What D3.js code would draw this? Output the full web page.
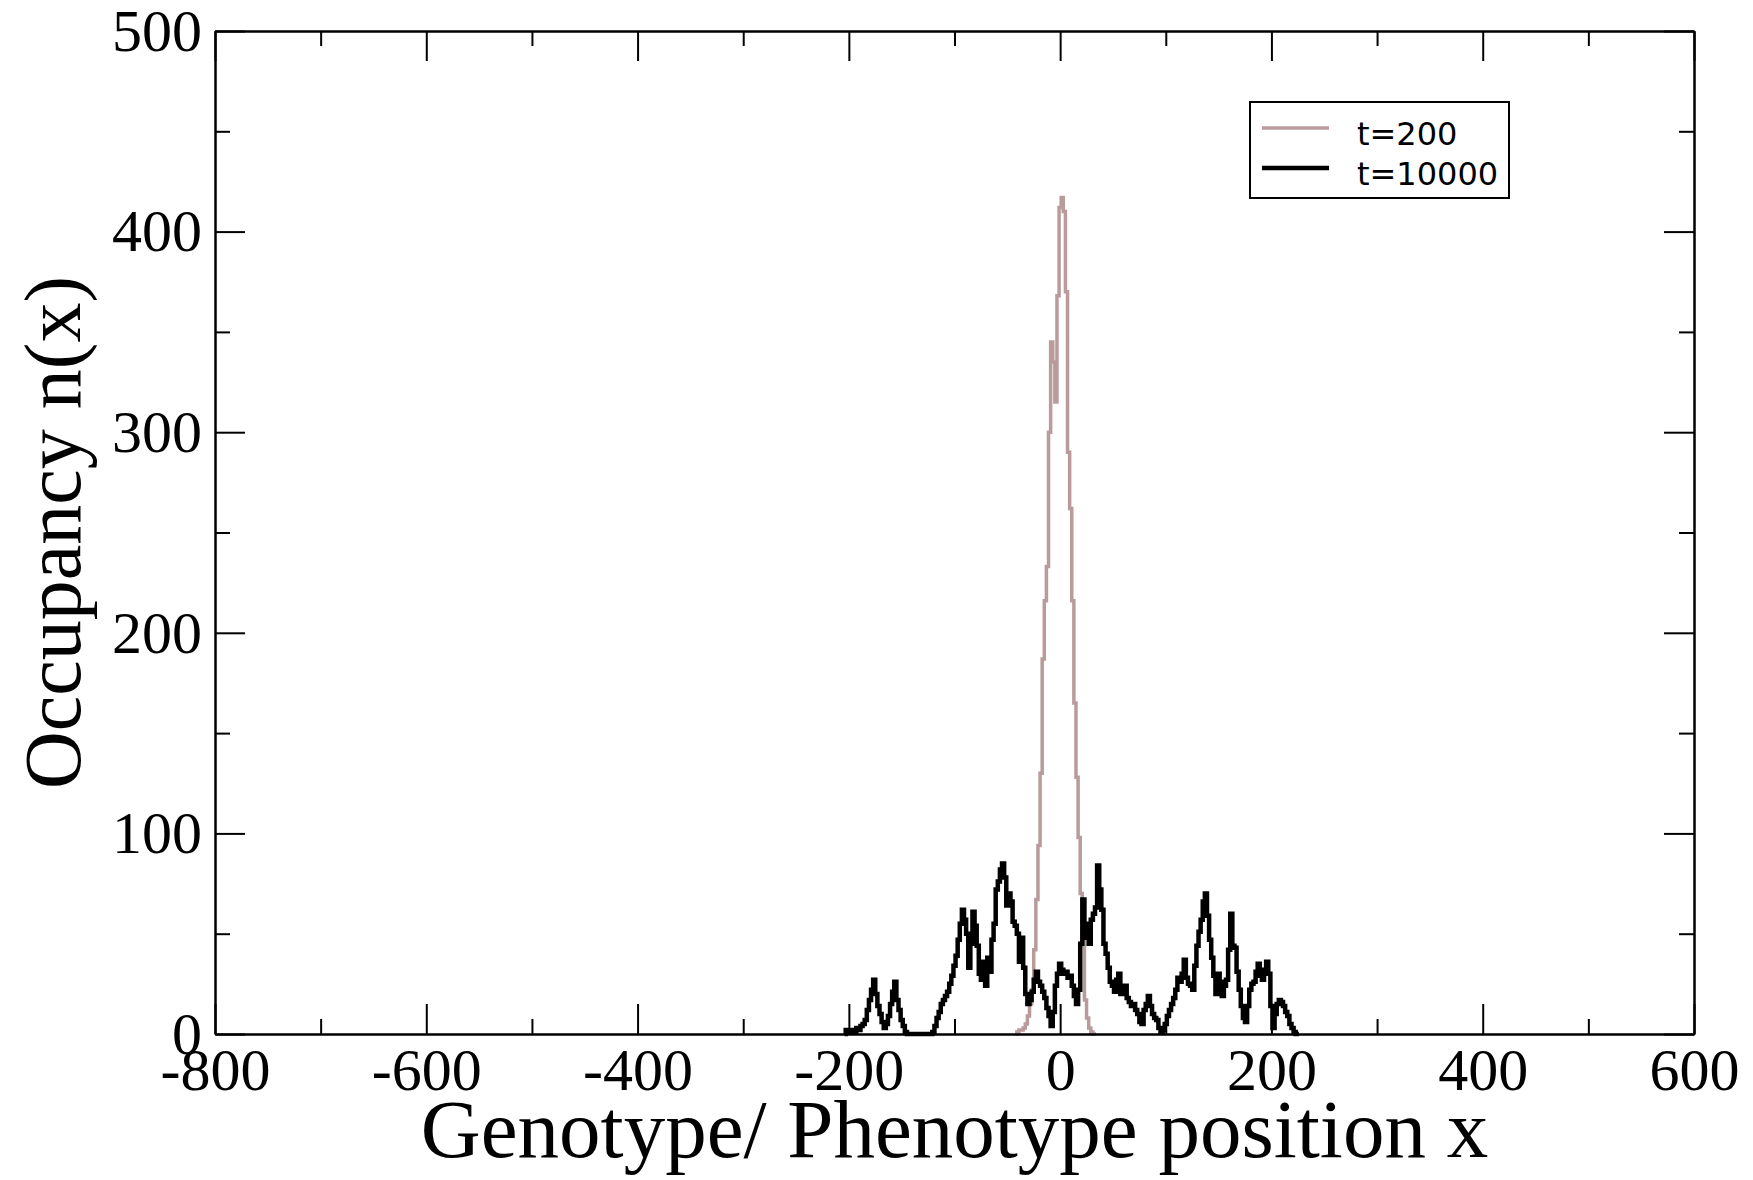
<!DOCTYPE html>
<html>
<head>
<meta charset="utf-8">
<script src="https://cdn.jsdelivr.net/npm/d3@7"></script>
<style>
	body { margin: 0; background: #fff; }
	svg { display: block; }
</style>
</head>
<body>
<div id="graph"></div>
<script>
// histogram bins, step of 2 in x
var earlyStart = -42,
	earlyStep = 2,
	earlyCounts = [0, 1, 2, 2, 3, 5, 9, 15, 22, 42, 67, 94, 130, 187, 216, 233, 300, 345, 335, 315,
		368, 412, 417, 410, 370, 290, 262, 216, 165, 128, 98, 70, 50, 17, 8, 3, 1, 0, 0];

var lateStart = -204,
	lateStep = 2,
	lateCounts = [
		0, 2, 1, 2, 2, 1, 3, 2, 4, 5, 7, 12, 17, 22, 27, 20, 14, 10, 6, 3,
		5, 9, 15, 21, 26, 17, 12, 7, 4, 1, 0, 0, 0, 0, 0, 0, 0, 0, 0, 0,
		0, 0, 1, 4, 8, 11, 15, 17, 19, 21, 25, 29, 34, 39, 47, 55, 62, 57, 50, 33,
		45, 61, 54, 44, 30, 27, 36, 24, 38, 31, 47, 55, 72, 76, 82, 85, 78, 64, 70, 66,
		56, 54, 50, 36, 48, 33, 20, 15, 17, 21, 27, 31, 26, 24, 21, 18, 13, 9, 4, 11,
		24, 30, 35, 32, 30, 31, 28, 29, 24, 19, 15, 22, 45, 67, 55, 48, 45, 57, 60, 63,
		84, 72, 62, 45, 40, 33, 26, 24, 21, 27, 30, 20, 23, 24, 18, 16, 14, 15, 12, 10,
		6, 5, 12, 15, 19, 14, 10, 8, 7, 3, 1, 2, 5, 9, 12, 15, 18, 22, 28, 26,
		30, 37, 28, 25, 24, 22, 34, 44, 51, 57, 66, 70, 59, 47, 38, 29, 20, 30, 26, 19,
		24, 27, 42, 60, 44, 43, 31, 22, 14, 8, 6, 14, 22, 25, 26, 31, 35, 29, 27, 32,
		36, 30, 14, 3, 10, 15, 17, 16, 14, 11, 9, 5, 3, 1, 0, 0];

var seriesNames = ["t=200", "t=10000"],
	seriesColors = ["#b99b9b", "#000000"],
	seriesWidths = [3.5, 4.5];

var xMajor = [-800, -600, -400, -200, 0, 200, 400, 600],
	xMinor = [-700, -500, -300, -100, 100, 300, 500],
	yMajor = [0, 100, 200, 300, 400, 500],
	yMinor = [50, 150, 250, 350, 450];

var SVGwidth = 1753,
	SVGheight = 1180,
	margin = {top: 31, right: 59, bottom: 146, left: 215},
	width = SVGwidth - margin.left - margin.right,
	height = SVGheight - margin.top - margin.bottom;

var serif = "'Liberation Serif', 'Times New Roman', serif";

var svg = d3.select('div#graph')
	.append('svg')
	.attr('width', SVGwidth)
	.attr('height', SVGheight);

svg.append('rect')
	.attr('width', SVGwidth)
	.attr('height', SVGheight)
	.attr('fill', '#fff');

var g = svg.append('g')
	.attr('transform', 'translate(' + margin.left + ',' + margin.top + ')');

var x = d3.scaleLinear()
		.domain([-800, 600])
		.range([0, width]),
	y = d3.scaleLinear()
		.domain([0, 500])
		.range([height, 0]);

function toPoints(start, step, counts) {
	return counts.map(function(c, i) { return [start + i * step, c]; });
}

var series = [
	toPoints(earlyStart, earlyStep, earlyCounts),
	toPoints(lateStart, lateStep, lateCounts)
];

var line = d3.line()
	.x(function(d) { return x(d[0]); })
	.y(function(d) { return y(d[1]); })
	.curve(d3.curveStep);

series.forEach(function(s, i) {
	g.append('path')
		.datum(s)
		.attr('fill', 'none')
		.attr('stroke', seriesColors[i])
		.attr('stroke-width', seriesWidths[i])
		.attr('stroke-linejoin', 'miter')
		.attr('d', line);
});

// plain hyphen for negatives, like the original
var plain = function(d) { return String(d); };

// axes: major + minor ticks pointing inwards on all four sides
function styleAxis(sel) {
	sel.selectAll('path.domain').attr('stroke', '#000').attr('stroke-width', 2);
	sel.selectAll('.tick line').attr('stroke', '#000').attr('stroke-width', 2);
	sel.selectAll('text')
		.attr('fill', '#000')
		.style('font-family', serif)
		.style('font-size', '60px');
}

g.append('g')
	.attr('transform', 'translate(0,' + height + ')')
	.call(d3.axisBottom(x).tickValues(xMajor).tickSize(-30).tickSizeOuter(0).tickPadding(13).tickFormat(plain))
	.call(styleAxis);
g.append('g')
	.attr('transform', 'translate(0,' + height + ')')
	.call(d3.axisBottom(x).tickValues(xMinor).tickSize(-15).tickSizeOuter(0).tickFormat(''))
	.call(styleAxis);
g.append('g')
	.call(d3.axisTop(x).tickValues(xMajor).tickSize(-30).tickSizeOuter(0).tickFormat(''))
	.call(styleAxis);
g.append('g')
	.call(d3.axisTop(x).tickValues(xMinor).tickSize(-15).tickSizeOuter(0).tickFormat(''))
	.call(styleAxis);

g.append('g')
	.call(d3.axisLeft(y).tickValues(yMajor).tickSize(-30).tickSizeOuter(0).tickPadding(13).tickFormat(plain))
	.call(styleAxis);
g.append('g')
	.call(d3.axisLeft(y).tickValues(yMinor).tickSize(-15).tickSizeOuter(0).tickFormat(''))
	.call(styleAxis);
g.append('g')
	.attr('transform', 'translate(' + width + ',0)')
	.call(d3.axisRight(y).tickValues(yMajor).tickSize(-30).tickSizeOuter(0).tickFormat(''))
	.call(styleAxis);
g.append('g')
	.attr('transform', 'translate(' + width + ',0)')
	.call(d3.axisRight(y).tickValues(yMinor).tickSize(-15).tickSizeOuter(0).tickFormat(''))
	.call(styleAxis);

// axis titles
svg.append('text')
	.attr('x', margin.left + width / 2)
	.attr('y', 1157)
	.attr('text-anchor', 'middle')
	.style('font-family', serif)
	.style('font-size', '83px')
	.text('Genotype/ Phenotype position x');

svg.append('text')
	.attr('transform', 'translate(80,' + (margin.top + height / 2) + ') rotate(-90)')
	.attr('text-anchor', 'middle')
	.style('font-family', serif)
	.style('font-size', '80px')
	.text('Occupancy n(x)');

// legend
var legend = svg.append('g')
	.attr('transform', 'translate(1250,102)');

legend.append('rect')
	.attr('width', 259)
	.attr('height', 96)
	.attr('fill', '#fff')
	.attr('stroke', '#000')
	.attr('stroke-width', 2);

seriesNames.forEach(function(name, i) {
	var ly = 26 + i * 40;
	legend.append('line')
		.attr('x1', 12)
		.attr('x2', 79)
		.attr('y1', ly)
		.attr('y2', ly)
		.attr('stroke', seriesColors[i])
		.attr('stroke-width', seriesWidths[i]);
	legend.append('text')
		.attr('x', 107)
		.attr('y', ly + 17)
		.style('font-family', "'DejaVu Sans', sans-serif")
		.style('font-size', '32px')
		.text(name);
});
</script>
</body>
</html>
